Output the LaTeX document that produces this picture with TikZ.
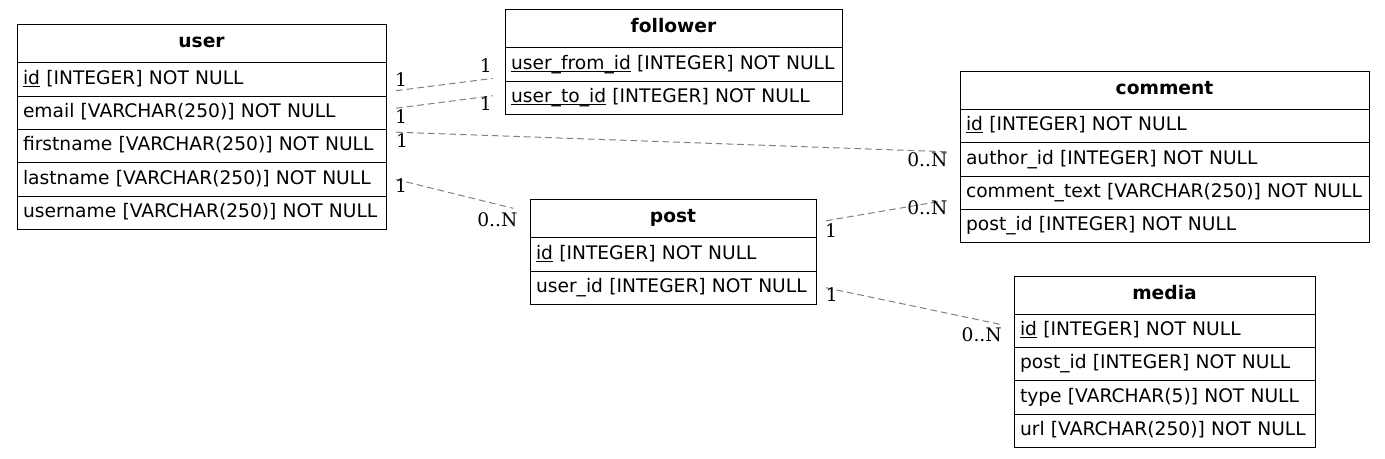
\documentclass[tikz,border=0pt]{standalone}
\usepackage{fontspec}
\setmainfont{DejaVu Sans}
\newfontfamily\cardfont{DejaVu Serif}
\usetikzlibrary{positioning,calc}
\newcommand{\keyfield}[1]{\underline{\smash{#1}}}

\begin{document}
\begin{tikzpicture}[x=0.75pt,y=-0.75pt,
    every node/.style={outer sep=0pt},
    tblhead/.style={draw, line width=0.75pt, text width=#1, align=center, anchor=north west,
        minimum height=28.3pt, inner xsep=4.5pt, inner ysep=0pt, text height=10.5pt, text depth=5pt,
        font=\fontsize{14}{16}\selectfont\bfseries},
    tblrow/.style={draw, line width=0.75pt, text width=#1, align=left,
        minimum height=25pt, inner xsep=4.5pt, inner ysep=0pt, text height=10.5pt, text depth=3.5pt,
        font=\fontsize{14}{16}\selectfont},
    rel/.style={draw=gray, line width=0.75pt, dash pattern=on 5pt off 3pt},
    card/.style={inner sep=0pt, font=\cardfont\fontsize{14}{16}\selectfont}
    ]

    \useasboundingbox (0,0) rectangle (1385,459);

    % user
    \node[tblhead=267.75pt] (user) at (17,25) {user};
    \node[tblrow=267.75pt, below=0pt of user] (user-id) {\keyfield{id} [INTEGER] NOT NULL};
    \node[tblrow=267.75pt, below=0pt of user-id] (user-email) {email [VARCHAR(250)] NOT NULL};
    \node[tblrow=267.75pt, below=0pt of user-email] (user-first) {firstname [VARCHAR(250)] NOT NULL};
    \node[tblrow=267.75pt, below=0pt of user-first] (user-last) {lastname [VARCHAR(250)] NOT NULL};
    \node[tblrow=267.75pt, below=0pt of user-last] (user-name) {username [VARCHAR(250)] NOT NULL};

    % follower
    \node[tblhead=243.75pt] (follower) at (505,10) {follower};
    \node[tblrow=243.75pt, below=0pt of follower] (follower-from) {\keyfield{user\_from\_id} [INTEGER] NOT NULL};
    \node[tblrow=243.75pt, below=0pt of follower-from] (follower-to) {\keyfield{user\_to\_id} [INTEGER] NOT NULL};

    % comment
    \node[tblhead=297.75pt] (comment) at (960,71.7) {comment};
    \node[tblrow=297.75pt, below=0pt of comment] (comment-id) {\keyfield{id} [INTEGER] NOT NULL};
    \node[tblrow=297.75pt, below=0pt of comment-id] (comment-author) {author\_id [INTEGER] NOT NULL};
    \node[tblrow=297.75pt, below=0pt of comment-author] (comment-text) {comment\_text [VARCHAR(250)] NOT NULL};
    \node[tblrow=297.75pt, below=0pt of comment-text] (comment-post) {post\_id [INTEGER] NOT NULL};

    % post
    \node[tblhead=205.5pt] (post) at (530,200) {post};
    \node[tblrow=205.5pt, below=0pt of post] (post-id) {\keyfield{id} [INTEGER] NOT NULL};
    \node[tblrow=205.5pt, below=0pt of post-id] (post-user) {user\_id [INTEGER] NOT NULL};

    % media
    \node[tblhead=216.75pt] (media) at (1014,276.5) {media};
    \node[tblrow=216.75pt, below=0pt of media] (media-id) {\keyfield{id} [INTEGER] NOT NULL};
    \node[tblrow=216.75pt, below=0pt of media-id] (media-post) {post\_id [INTEGER] NOT NULL};
    \node[tblrow=216.75pt, below=0pt of media-post] (media-type) {type [VARCHAR(5)] NOT NULL};
    \node[tblrow=216.75pt, below=0pt of media-type] (media-url) {url [VARCHAR(250)] NOT NULL};

    % relations
    \draw[rel] ($(user-id.east)+(10,11.3)$) -- ($(follower-from.west)+(-12.3,14)$);
    \draw[rel] ($(user-email.east)+(10,-4.5)$) -- ($(follower-to.west)+(-12.3,-2)$);
    \draw[rel] ($(user-first.east)+(10,-13.9)$) -- ($(comment-author.west)+(-11.7,-7.6)$);
    \draw[rel] ($(user-last.east)+(10,0)$) -- ($(post.west)+(-16.7,-10.5)$);
    \draw[rel] ($(post.east)+(10,1.9)$) -- ($(comment-text.west)+(-16.7,8)$);
    \draw[rel] ($(post-user.east)+(10,0)$) -- ($(media-id.west)+(-11.3,-6)$);

    % cardinalities
    \node[card] (c1a) at (401,80) {1};
    \node[card] (c1b) at (485.7,66) {1};
    \node[card] (c2a) at (401,116.7) {1};
    \node[card] (c2b) at (485.7,104) {1};
    \node[card] (c3a) at (402,140.7) {1};
    \node[card] (c3b) at (927.3,159.3) {0..N};
    \node[card] (c4a) at (401,186) {1};
    \node[card] (c4b) at (497.3,219.3) {0..N};
    \node[card] (c5a) at (831,231) {1};
    \node[card] (c5b) at (927.3,207.3) {0..N};
    \node[card] (c6a) at (831.7,295) {1};
    \node[card] (c6b) at (981.7,335) {0..N};
\end{tikzpicture}
\end{document}
